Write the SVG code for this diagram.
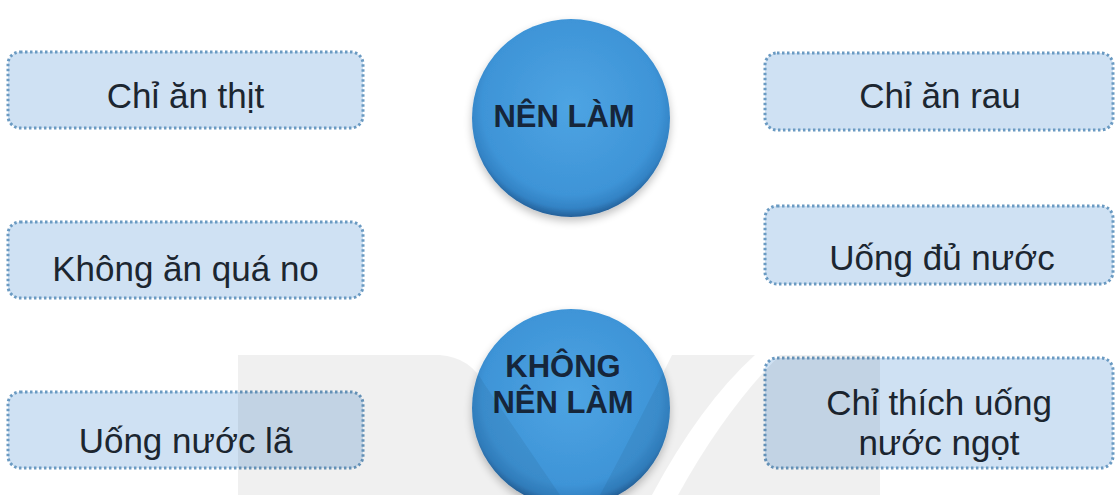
<svg xmlns="http://www.w3.org/2000/svg" width="1119" height="495" viewBox="0 0 1119 495">
  <defs>
    <style>
      .box { fill: #cfe1f3; stroke: #6a9ac2; stroke-width: 3; stroke-dasharray: 2.5 2.5; }
      .lbl { font-family: "Liberation Sans", Arial, sans-serif; font-size: 35px; fill: #1c2630; text-anchor: middle; }
      .hub { font-family: "Liberation Sans", Arial, sans-serif; font-size: 31px; font-weight: bold; fill: #16263a; text-anchor: middle; }
      .ball { fill: url(#ballGrad); filter: url(#shadow); }
      .wm { fill: #000; opacity: 0.06; }
    </style>
    <radialGradient id="ballGrad" cx="50%" cy="44%" r="56%">
      <stop offset="0" stop-color="#4ea4e3"/>
      <stop offset="0.8" stop-color="#3e94d7"/>
      <stop offset="0.92" stop-color="#3383c5"/>
      <stop offset="1" stop-color="#245f98"/>
    </radialGradient>
    <filter id="shadow" x="-20%" y="-20%" width="140%" height="150%">
      <feGaussianBlur in="SourceAlpha" stdDeviation="4"/>
      <feOffset dx="0" dy="4" result="b"/>
      <feComponentTransfer><feFuncA type="linear" slope="0.25"/></feComponentTransfer>
      <feMerge><feMergeNode/><feMergeNode in="SourceGraphic"/></feMerge>
    </filter>
  </defs>

  <rect x="0" y="0" width="1119" height="495" fill="#ffffff"/>

  <g id="connectors"></g>

  <g id="box-chi-an-thit">
    <rect class="box" x="8" y="52" width="355" height="76" rx="12"/>
    <text class="lbl" x="185.5" y="108">Chỉ ăn thịt</text>
  </g>
  <g id="box-khong-an-qua-no">
    <rect class="box" x="8" y="222" width="355" height="76" rx="12"/>
    <text class="lbl" x="185.5" y="281">Không ăn quá no</text>
  </g>
  <g id="box-uong-nuoc-la">
    <rect class="box" x="8" y="392" width="355" height="76" rx="12"/>
    <text class="lbl" x="185.5" y="453">Uống nước lã</text>
  </g>

  <g id="box-chi-an-rau">
    <rect class="box" x="765" y="53" width="348" height="77" rx="12"/>
    <text class="lbl" x="940" y="108">Chỉ ăn rau</text>
  </g>
  <g id="box-uong-du-nuoc">
    <rect class="box" x="765" y="206" width="348" height="78" rx="12"/>
    <text class="lbl" x="942" y="270">Uống đủ nước</text>
  </g>
  <g id="box-chi-thich-uong-nuoc-ngot">
    <rect class="box" x="765" y="358" width="348" height="110" rx="12"/>
    <text class="lbl" x="939" y="415">Chỉ thích uống</text>
    <text class="lbl" x="939" y="455">nước ngọt</text>
  </g>

  <g id="node-nen-lam">
    <circle class="ball" cx="571" cy="118" r="99"/>
    <text class="hub" x="564" y="127">NÊN LÀM</text>
  </g>
  <g id="node-khong-nen-lam">
    <circle class="ball" cx="571" cy="408" r="99"/>
    <text class="hub" x="563" y="377">KHÔNG</text>
    <text class="hub" x="563" y="413">NÊN LÀM</text>
  </g>

  <g id="watermark">
    <path class="wm" d="M238,355 L440,355 Q470,357 485,385 L560,495 L238,495 Z"/>
    <path class="wm" d="M672,355 L755,355 Q700,405 652,495 L600,495 Q640,420 672,355 Z"/>
    <path class="wm" d="M780,355 L880,355 L880,495 L678,495 Q725,410 780,355 Z"/>
  </g>
</svg>
